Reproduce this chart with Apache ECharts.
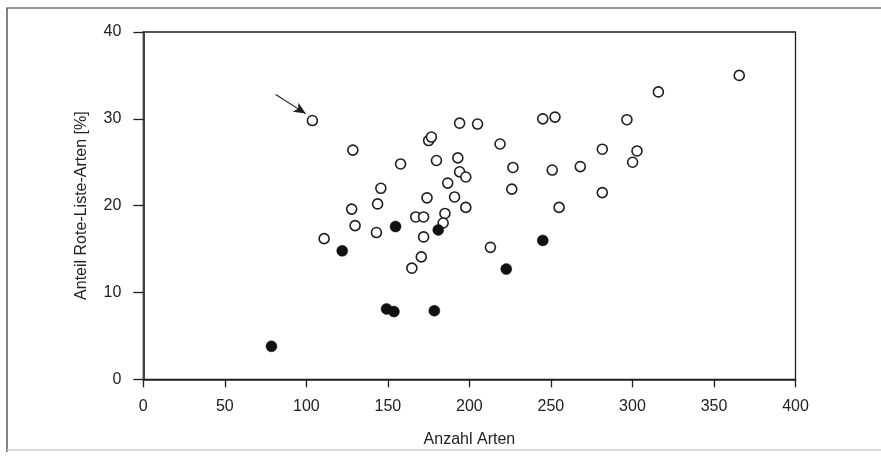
<!DOCTYPE html>
<html>
<head>
<meta charset="utf-8">
<script src="https://cdn.jsdelivr.net/npm/echarts@6/dist/echarts.min.js"></script>
<style>
html,body{margin:0;padding:0;background:#fff;}
#c{width:881px;height:456px;}
</style>
</head>
<body>
<div id="c"></div>
<script>
// Open circles: [Anzahl Arten, Anteil Rote-Liste-Arten %]
const openX = [103.7,128.5,110.9,127.8,129.9,143.0,143.7,145.7,157.8,167.1,171.9,171.9,170.5,164.7,174.0,175.0,176.7,179.8,186.7,190.9,185.0,183.9,192.9,194.0,194.0,197.8,197.8,205.0,218.8,212.9,226.7,226.0,245.0,252.5,250.8,255.0,268.0,281.5,281.5,296.6,300.1,302.8,315.9,365.5];
const openY = [29.8,26.4,16.2,19.6,17.7,16.9,20.2,22.0,24.8,18.7,18.7,16.4,14.1,12.8,20.9,27.5,27.9,25.2,22.6,21.0,19.1,18.0,25.5,29.5,23.9,23.3,19.8,29.4,27.1,15.2,24.4,21.9,30.0,30.2,24.1,19.8,24.5,26.5,21.5,29.9,25.0,26.3,33.1,35.0];
// Filled circles
const filledX = [78.6,122.0,149.2,153.7,154.7,178.5,180.9,222.6,245.0];
const filledY = [3.8,14.8,8.1,7.8,17.6,7.9,17.2,12.7,16.0];
// Arrow pointing at highlighted point
const arrowFrom = [81.2,32.8];
const arrowTo = [99.6,30.6];
const xTicks = [0,50,100,150,200,250,300,350,400];
const yTicks = [0,10,20,30,40];
const xName = 'Anzahl Arten';
const yName = 'Anteil Rote-Liste-Arten [%]';

const zip = (a,b) => a.map((v,i)=>[v,b[i]]);
const FONT = "'Liberation Sans', Arial, sans-serif";
const ink = '#1e1e1e';

const chart = echarts.init(document.getElementById('c'), null, {renderer:'canvas'});
chart.setOption({
  animation:false,
  backgroundColor:'#ffffff',
  graphic:[{
    type:'polyline', silent:true, z:0,
    shape:{points:[[7,452],[7,8],[881,8]]},
    style:{stroke:'#333', lineWidth:1.2, fill:null}
  },{
    type:'line', silent:true, z:0,
    shape:{x1:7,y1:450,x2:881,y2:450},
    style:{stroke:'#cfcfcf', lineWidth:1.5}
  }],
  grid:{left:143.3, right:85.5, top:32, bottom:76.7, show:true, borderColor:ink, borderWidth:1.3, backgroundColor:'transparent'},
  xAxis:{
    type:'value', min:xTicks[0], max:xTicks[xTicks.length-1], interval:50,
    name:xName, nameLocation:'middle', nameGap:52,
    nameTextStyle:{fontFamily:FONT, fontSize:16, color:'#222'},
    axisLine:{show:true, onZero:false, lineStyle:{color:ink, width:1.6}},
    axisTick:{show:true, inside:false, length:8, lineStyle:{color:ink, width:1.3}},
    axisLabel:{fontFamily:FONT, fontSize:16, color:'#222', margin:19},
    splitLine:{show:false}
  },
  yAxis:{
    type:'value', min:yTicks[0], max:yTicks[yTicks.length-1], interval:10,
    name:yName, nameLocation:'middle', nameGap:54, nameRotate:90,
    nameTextStyle:{fontFamily:FONT, fontSize:16, color:'#222'},
    axisLine:{show:true, onZero:false, lineStyle:{color:'#444', width:2}},
    axisTick:{show:true, inside:false, length:10, lineStyle:{color:ink, width:1.3}},
    axisLabel:{fontFamily:FONT, fontSize:16, color:'#222', margin:22},
    splitLine:{show:false}
  },
  series:[{
    type:'scatter', name:'offen',
    data:zip(openX,openY),
    symbol:'circle', symbolSize:10,
    itemStyle:{color:'#ffffff', borderColor:ink, borderWidth:1.6, opacity:1},
    z:3,
    markLine:{
      silent:true, symbol:['none','arrow'], symbolSize:[8,12],
      label:{show:false},
      lineStyle:{color:ink, width:1.1, type:'solid'},
      data:[[{coord:arrowFrom},{coord:arrowTo}]]
    }
  },{
    type:'scatter', name:'gefuellt',
    data:zip(filledX,filledY),
    symbol:'circle', symbolSize:11,
    itemStyle:{color:'#111111', borderColor:'#111111', borderWidth:0.5, opacity:1},
    z:4
  }]
});
</script>
</body>
</html>
